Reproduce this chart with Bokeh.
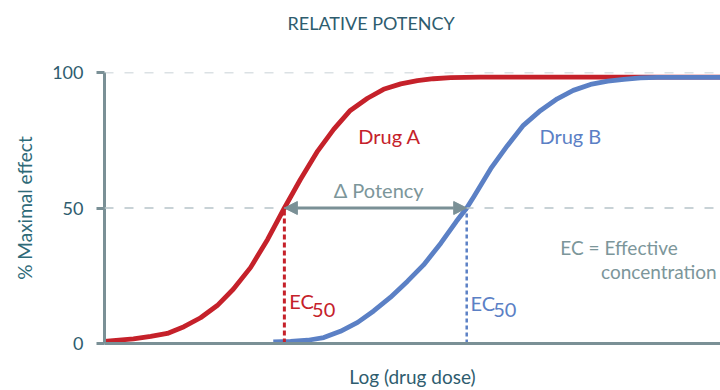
from bokeh.plotting import figure
from bokeh.models import Range1d, FixedTicker, Span, Label, Arrow, NormalHead, ColumnDataSource, Title
from bokeh.embed import file_html
from bokeh.resources import INLINE

# ---- data ----
drug_a_dose = [0.0, 0.47, 0.75, 1.02, 1.29, 1.56, 1.83, 2.09, 2.37, 2.65, 2.92, 3.18, 3.46, 3.72,
               3.99, 4.27, 4.53, 4.81, 5.08, 5.34, 5.62, 6.10, 10.0]
drug_a_effect = [0.8, 1.7, 2.6, 3.7, 6.2, 9.5, 14, 20, 28, 38.5, 50, 60.5, 71, 79,
                 86, 90.5, 93.8, 95.8, 97.0, 97.7, 98.1, 98.3, 98.3]

drug_b_dose = [2.74, 3.02, 3.30, 3.56, 3.83, 4.11, 4.37, 4.64, 4.92, 5.18, 5.46, 5.71,
               5.88, 5.99, 6.27, 6.54, 6.80, 7.08, 7.35, 7.61, 7.89, 8.17, 8.43, 8.70, 8.98, 10.0]
drug_b_effect = [0.6, 0.8, 1.2, 2.2, 4.5, 7.8, 12, 17, 23, 29, 37, 45,
                 50, 54, 64.5, 73, 80.5, 86, 90.3, 93.4, 95.6, 96.8, 97.5, 98.0, 98.2, 98.2]

ec50_a = 2.92
ec50_b = 5.88
y_ticks = [0, 50, 100]
grid_levels = [50, 100]

# ---- styles ----
FONT = "Lato"
RED = "#c5212a"
BLUE = "#5b80c5"
AXIS = "#7a9096"
DARK = "#2e5c6e"
GREY = "#7c969a"
GRID = "#b7c3c9"

p = figure(width=720, height=390, x_range=Range1d(0, 10), y_range=Range1d(0, 100),
           output_backend="svg", toolbar_location=None,
           min_border_left=104, min_border_right=0, min_border_top=72, min_border_bottom=46)
p.outline_line_color = None
p.xgrid.visible = False
p.ygrid.visible = False
p.background_fill_color = "white"

# spacer (nearest the frame) then the real title further out
p.add_layout(Title(text=" ", text_font_size="10px", standoff=25), "above")
p.add_layout(Title(text="RELATIVE POTENCY", text_font=FONT, text_font_size="18px",
                   text_font_style="normal", text_color=DARK, align="left",
                   offset=183, standoff=2), "above")

# y axis
p.yaxis.ticker = FixedTicker(ticks=y_ticks)
p.yaxis.minor_tick_line_color = None
p.yaxis.major_tick_in = 0
p.yaxis.major_tick_out = 8
p.yaxis.major_tick_line_width = 3
p.yaxis.major_tick_line_color = AXIS
p.yaxis.axis_line_width = 3
p.yaxis.axis_line_color = AXIS
p.yaxis.major_label_standoff = 13
p.yaxis.major_label_text_font = FONT
p.yaxis.major_label_text_font_size = "18px"
p.yaxis.major_label_text_color = DARK
p.yaxis.axis_label = "% Maximal effect"
p.yaxis.axis_label_text_font = FONT
p.yaxis.axis_label_text_font_size = "19px"
p.yaxis.axis_label_text_font_style = "normal"
p.yaxis.axis_label_text_color = "#2e6a78"
p.yaxis.axis_label_standoff = 13

# x axis
p.xaxis.ticker = FixedTicker(ticks=[])
p.xaxis.minor_tick_line_color = None
p.xaxis.major_tick_line_color = None
p.xaxis.axis_line_width = 3
p.xaxis.axis_line_color = AXIS
p.xaxis.axis_label = "Log (drug dose)"
p.xaxis.axis_label_text_font = FONT
p.xaxis.axis_label_text_font_size = "19px"
p.xaxis.axis_label_text_font_style = "normal"
p.xaxis.axis_label_text_color = DARK
p.xaxis.axis_label_standoff = 21

for lv in grid_levels:
    p.add_layout(Span(location=lv, dimension="width", line_color=GRID,
                      line_width=1.5, line_dash="9 11"))

src_a = ColumnDataSource(dict(x=drug_a_dose, y=drug_a_effect))
src_b = ColumnDataSource(dict(x=drug_b_dose, y=drug_b_effect))
p.line("x", "y", source=src_a, line_color=RED, line_width=4.8, line_join="round")
p.line("x", "y", source=src_b, line_color=BLUE, line_width=4.8, line_join="round")

p.segment(x0=[ec50_a], y0=[0], x1=[ec50_a], y1=[50], line_color=RED,
          line_width=3, line_dash="5 3")
p.segment(x0=[ec50_b], y0=[0], x1=[ec50_b], y1=[50], line_color=BLUE,
          line_width=2.5, line_dash="4 3")

p.add_layout(Arrow(x_start=ec50_a, y_start=50, x_end=ec50_b, y_end=50,
                   line_color=AXIS, line_width=3,
                   start=NormalHead(size=13, fill_color=AXIS, line_color=AXIS),
                   end=NormalHead(size=13, fill_color=AXIS, line_color=AXIS)))


def lab(x, y, text, color, size="20px", align="left"):
    p.add_layout(Label(x=x, y=y, text=text, text_color=color, text_font=FONT,
                       text_font_size=size, text_align=align,
                       text_baseline="alphabetic"))


lab(4.12, 76.6, "Drug A", RED)
lab(7.06, 76.6, "Drug B", BLUE)
lab(3.72, 56.6, "\u0394 Potency", GREY)
lab(3.00, 15.5, "EC", RED)
lab(3.37, 12.2, "50", RED)
lab(5.94, 15.1, "EC", BLUE)
lab(6.31, 12.2, "50", BLUE)
lab(7.40, 35.4, "EC = Effective", GREY, size="19px")
lab(8.06, 26.6, "concentration", GREY, size="19px")

open("out.html", "w").write(file_html(p, INLINE))
